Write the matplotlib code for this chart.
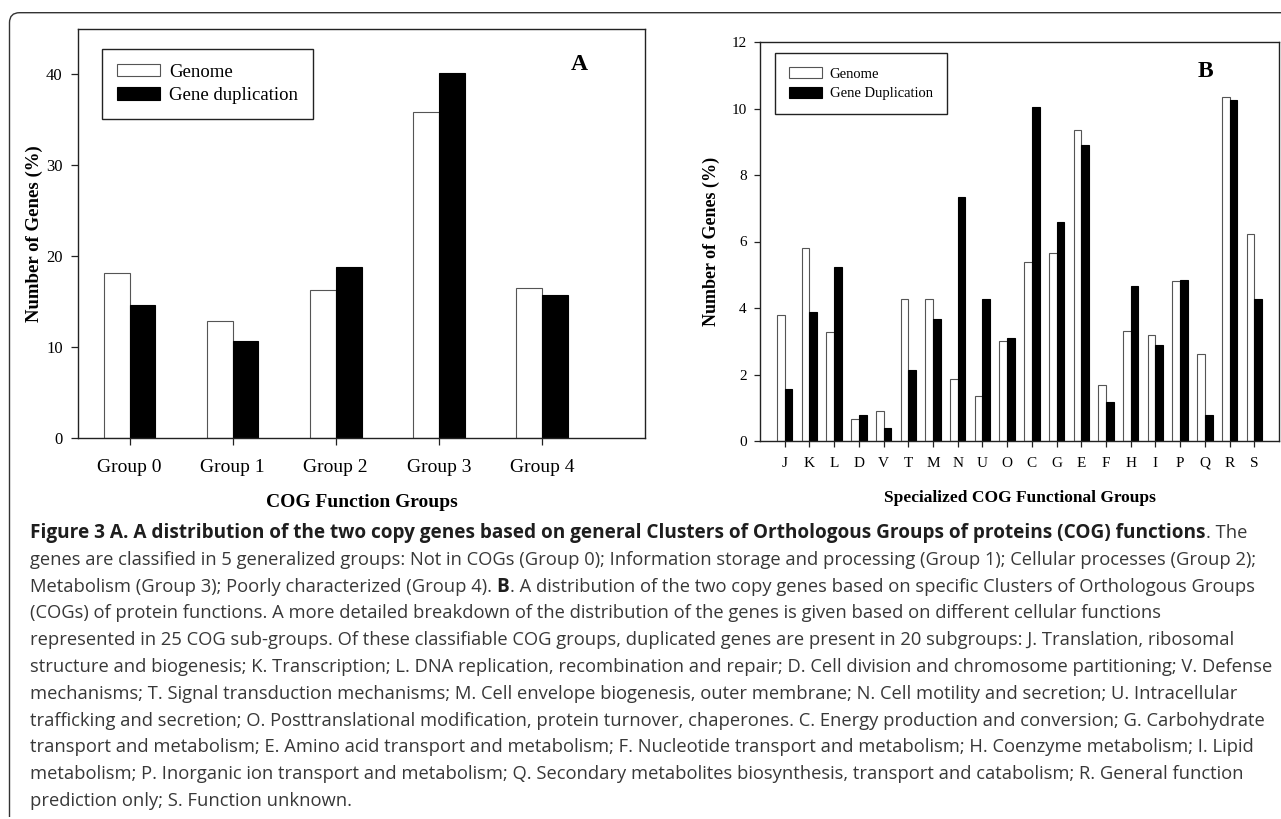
import numpy as np
import matplotlib
matplotlib.use("Agg")
import matplotlib.pyplot as plt
from matplotlib.path import Path
from matplotlib.patches import PathPatch
from matplotlib.transforms import IdentityTransform

# Panel A: general COG groups
groups_a = ["Group 0", "Group 1", "Group 2", "Group 3", "Group 4"]
genome_a = [18.15, 12.87, 16.28, 35.89, 16.5]
dup_a = [14.66, 10.67, 18.84, 40.18, 15.73]

# Panel B: specialized COG groups
groups_b = ["J", "K", "L", "D", "V", "T", "M", "N", "U", "O",
            "C", "G", "E", "F", "H", "I", "P", "Q", "R", "S"]
genome_b = [3.78, 5.80, 3.29, 0.66, 0.91, 4.27, 4.27, 1.87, 1.34, 3.01,
            5.39, 5.66, 9.34, 1.67, 3.32, 3.20, 4.82, 2.63, 10.36, 6.22]
dup_b = [1.55, 3.87, 5.22, 0.78, 0.39, 2.14, 3.67, 7.35, 4.26, 3.09,
         10.06, 6.59, 8.91, 1.16, 4.65, 2.90, 4.84, 0.77, 10.26, 4.26]

# caption, one entry per printed line: list of (text, bold) runs
caption = [
    [("Figure 3 A. A distribution of the two copy genes based on general Clusters of "
      "Orthologous Groups of proteins (COG) functions", True), (". The", False)],
    [("genes are classified in 5 generalized groups: Not in COGs (Group 0); Information "
      "storage and processing (Group 1); Cellular processes (Group 2);", False)],
    [("Metabolism (Group 3); Poorly characterized (Group 4).", False), (" ", False),
     ("B", True), (". A distribution of the two copy genes based on specific Clusters "
                   "of Orthologous Groups", False)],
    [("(COGs) of protein functions. A more detailed breakdown of the distribution of the "
      "genes is given based on different cellular functions", False)],
    [("represented in 25 COG sub-groups. Of these classifiable COG groups, duplicated "
      "genes are present in 20 subgroups: J. Translation, ribosomal", False)],
    [("structure and biogenesis; K. Transcription; L. DNA replication, recombination and "
      "repair; D. Cell division and chromosome partitioning; V. Defense", False)],
    [("mechanisms; T. Signal transduction mechanisms; M. Cell envelope biogenesis, outer "
      "membrane; N. Cell motility and secretion; U. Intracellular", False)],
    [("trafficking and secretion; O. Posttranslational modification, protein turnover, "
      "chaperones. C. Energy production and conversion; G. Carbohydrate", False)],
    [("transport and metabolism; E. Amino acid transport and metabolism; F. Nucleotide "
      "transport and metabolism; H. Coenzyme metabolism; I. Lipid", False)],
    [("metabolism; P. Inorganic ion transport and metabolism; Q. Secondary metabolites "
      "biosynthesis, transport and catabolism; R. General function", False)],
    [("prediction only; S. Function unknown.", False)],
]

W, H = 1281, 819
plt.rcParams["font.family"] = ["Liberation Serif", "DejaVu Serif"]
fig = plt.figure(figsize=(W / 100, H / 100), dpi=100)


def style_axes(ax, tick_len):
    for s in ax.spines.values():
        s.set_linewidth(1.0)
        s.set_color("#222222")
    ax.tick_params(direction="out", length=tick_len, width=0.9, color="#222222")


# ---- panel A ----
axA = fig.add_axes([78 / W, 1 - 438 / H, 567 / W, 409 / H])
x = np.arange(len(groups_a))
w = 0.25
axA.bar(x - w / 2, genome_a, w, color="white", edgecolor="#555555", linewidth=0.8, label="Genome")
axA.bar(x + w / 2, dup_a, w, color="black", edgecolor="black", linewidth=0.8, label="Gene duplication")
axA.set_xlim(-0.5, 5.0)
axA.set_ylim(0, 45)
axA.set_yticks([0, 10, 20, 30, 40])
axA.set_xticks(x)
axA.set_xticklabels(groups_a, fontsize=14)
axA.tick_params(axis="y", labelsize=12, pad=6)
axA.tick_params(axis="x", pad=10)
style_axes(axA, 5)
axA.set_ylabel("Number of Genes (%)", fontsize=13.5, fontweight="bold")
axA.yaxis.set_label_coords(-0.0776, 0.5)
axA.yaxis.label.set_va("center")
axA.set_xlabel("COG Function Groups", fontsize=14, fontweight="bold")
axA.xaxis.set_label_coords(0.5, -0.1565)
axA.xaxis.label.set_va("center")
axA.text(0.8836, 0.912, "A", transform=axA.transAxes, fontsize=17, fontweight="bold",
         ha="center", va="center")
legA = axA.legend(loc="upper left", bbox_to_anchor=(0.0423, 0.951), borderaxespad=0,
                  fontsize=13.5, handlelength=2.3, handleheight=0.65, handletextpad=0.5,
                  labelspacing=0.35, borderpad=0.78, fancybox=False, framealpha=1)
legA.get_frame().set_edgecolor("#222222")
legA.get_frame().set_linewidth(1.0)

# ---- panel B ----
axB = fig.add_axes([760 / W, 1 - 441 / H, 519 / W, 399 / H])
xb = np.arange(len(groups_b))
wb = 0.31
axB.bar(xb - wb / 2, genome_b, wb, color="white", edgecolor="#555555", linewidth=0.8, label="Genome")
axB.bar(xb + wb / 2, dup_b, wb, color="black", edgecolor="black", linewidth=0.8, label="Gene Duplication")
axB.set_xlim(-1, 20)
axB.set_ylim(0, 12)
axB.set_yticks(np.arange(0, 13, 2))
axB.set_xticks(xb)
axB.set_xticklabels(groups_b, fontsize=11)
axB.tick_params(axis="y", labelsize=11, pad=5)
axB.tick_params(axis="x", pad=7)
style_axes(axB, 4.5)
axB.set_ylabel("Number of Genes (%)", fontsize=13, fontweight="bold")
axB.yaxis.set_label_coords(-0.0944, 0.5)
axB.yaxis.label.set_va("center")
axB.set_xlabel("Specialized COG Functional Groups", fontsize=12.5, fontweight="bold")
axB.xaxis.set_label_coords(0.5, -0.1429)
axB.xaxis.label.set_va("center")
axB.text(0.859, 0.925, "B", transform=axB.transAxes, fontsize=17, fontweight="bold",
         ha="center", va="center")
legB = axB.legend(loc="upper left", bbox_to_anchor=(0.0289, 0.9724), borderaxespad=0,
                  fontsize=10.5, handlelength=2.26, handleheight=0.8, handletextpad=0.55,
                  labelspacing=0.42, borderpad=0.95, fancybox=False, framealpha=1)
legB.get_frame().set_edgecolor("#222222")
legB.get_frame().set_linewidth(1.0)

# ---- outer frame with rounded top-left corner ----
top = H - 12.7
left = 9.5
verts = [(W, top), (left + 10, top), (left, top), (left, top - 10), (left, 2)]
codes = [Path.MOVETO, Path.LINETO, Path.CURVE3, Path.CURVE3, Path.LINETO]
fig.add_artist(PathPatch(Path(verts, codes), transform=IdentityTransform(),
                         facecolor="none", edgecolor="#333333", linewidth=1.0))

# ---- caption ----
renderer = fig.canvas.get_renderer()
cap_font = ["Open Sans", "DejaVu Sans"]
BOLD_SCALE = 1.035


def text_width(s, size, bold):
    t = fig.text(0, 0, s, fontsize=size * (BOLD_SCALE if bold else 1.0), family=cap_font,
                 fontweight="bold" if bold else "normal", transform=IdentityTransform())
    wpx = t.get_window_extent(renderer).width
    t.remove()
    return wpx


def line_width(line, size):
    sp = text_width("a a", size, False) - text_width("aa", size, False)
    return sum(sp if txt == " " else text_width(txt, size, b) for txt, b in line)


cap_left = 30
cap_size = 12.0
widest = max(line_width(line, cap_size) for line in caption)
cap_size *= (1264 - cap_left) / widest
space_w = text_width("a a", cap_size, False) - text_width("aa", cap_size, False)

baseline = 538
for line in caption:
    xpos = cap_left
    for txt, bold in line:
        if txt == " ":
            xpos += space_w
            continue
        t = fig.text(xpos, H - baseline, txt,
                     fontsize=cap_size * (BOLD_SCALE if bold else 1.0), family=cap_font,
                     fontweight="bold" if bold else "normal",
                     color="#1e1e1e" if bold else "#383838",
                     va="baseline", ha="left", transform=IdentityTransform())
        xpos = t.get_window_extent(renderer).x1
    baseline += 26.8

fig.savefig("out.png", dpi=100)
